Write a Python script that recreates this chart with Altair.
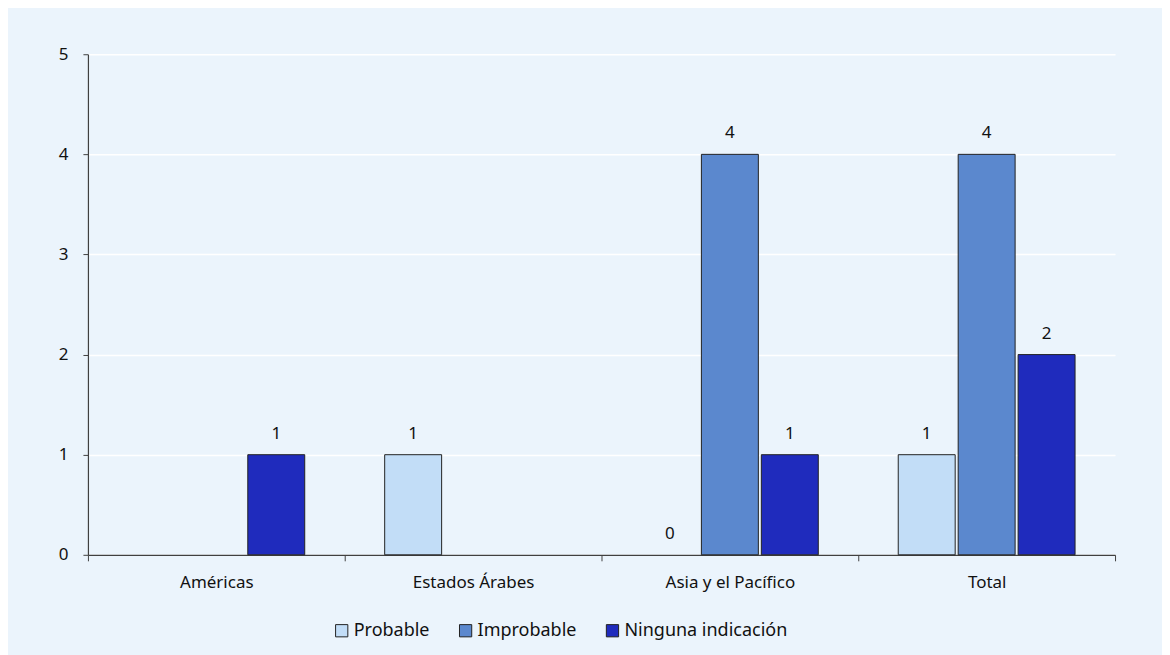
import altair as alt
import pandas as pd

regions = ["Américas", "Estados Árabes", "Asia y el Pacífico", "Total"]
series = ["Probable", "Improbable", "Ninguna indicación"]
probable = [None, 1, 0, 1]
improbable = [None, None, 4, 4]
ninguna = [1, None, 1, 2]
colors = ["#C2DDF7", "#5B88CE", "#1F2BBD"]
y_ticks = [0, 1, 2, 3, 4, 5]

rows = []
for s, vals in zip(series, [probable, improbable, ninguna]):
    for r, v in zip(regions, vals):
        if v is not None:
            rows.append({"region": r, "serie": s, "value": v})
df = pd.DataFrame(rows)

FONT = "Noto Sans"
FS = 17

x_enc = alt.X(
    "region:N",
    sort=regions,
    scale=alt.Scale(paddingInner=0, paddingOuter=0),
    axis=alt.Axis(
        title=None,
        labelAngle=0,
        tickBand="extent",
        tickSize=6,
        labelPadding=14,
        grid=False,
    ),
)
xo_enc = alt.XOffset(
    "serie:N",
    sort=series,
    scale=alt.Scale(paddingInner=0.05, paddingOuter=0.667),
)
y_enc = alt.Y(
    "value:Q",
    scale=alt.Scale(domain=[0, 5], nice=False),
    axis=alt.Axis(
        title=None,
        values=y_ticks,
        format="d",
        tickSize=5,
        labelPadding=15,
        grid=True,
        gridColor="#FFFFFF",
        gridWidth=1.5,
    ),
)

bars = alt.Chart(df).mark_bar(stroke="#222222", strokeWidth=1).encode(
    x=x_enc,
    xOffset=xo_enc,
    y=y_enc,
    strokeOpacity=alt.condition(alt.datum.value == 0, alt.value(0), alt.value(1)),
    color=alt.Color(
        "serie:N",
        sort=series,
        scale=alt.Scale(domain=series, range=colors),
        legend=alt.Legend(
            title=None,
            orient="none",
            direction="horizontal",
            legendX=245,
            legendY=568,
            symbolType="square",
            symbolSize=150,
            symbolStrokeColor="#222222",
            symbolStrokeWidth=1,
            symbolOpacity=1,
            labelFontSize=18,
            labelLimit=400,
            labelColor="#111111",
            labelFont=FONT,
            columnPadding=27,
            symbolOffset=0,
            labelOffset=3,
        ),
    ),
)

labels = alt.Chart(df).mark_text(
    baseline="bottom", dy=-12, fontSize=FS, font=FONT, color="#111111"
).encode(
    x=alt.X("region:N", sort=regions),
    xOffset=alt.XOffset("serie:N", sort=series),
    y=alt.Y("value:Q"),
    text=alt.Text("value:Q"),
)

chart = (
    alt.layer(bars, labels)
    .properties(
        width=1028,
        height=501,
        background="#EBF4FC",
        autosize=alt.AutoSizeParams(type="none"),
        padding={"left": 80, "top": 46, "right": 47, "bottom": 100},
    )
    .configure_view(stroke=None)
    .configure_axis(
        domainColor="#404040",
        tickColor="#404040",
        domainWidth=1.2,
        labelFont=FONT,
        labelFontSize=FS,
        labelColor="#111111",
    )
)

chart.save("out.html", embed_options={"renderer": "svg", "actions": False})
